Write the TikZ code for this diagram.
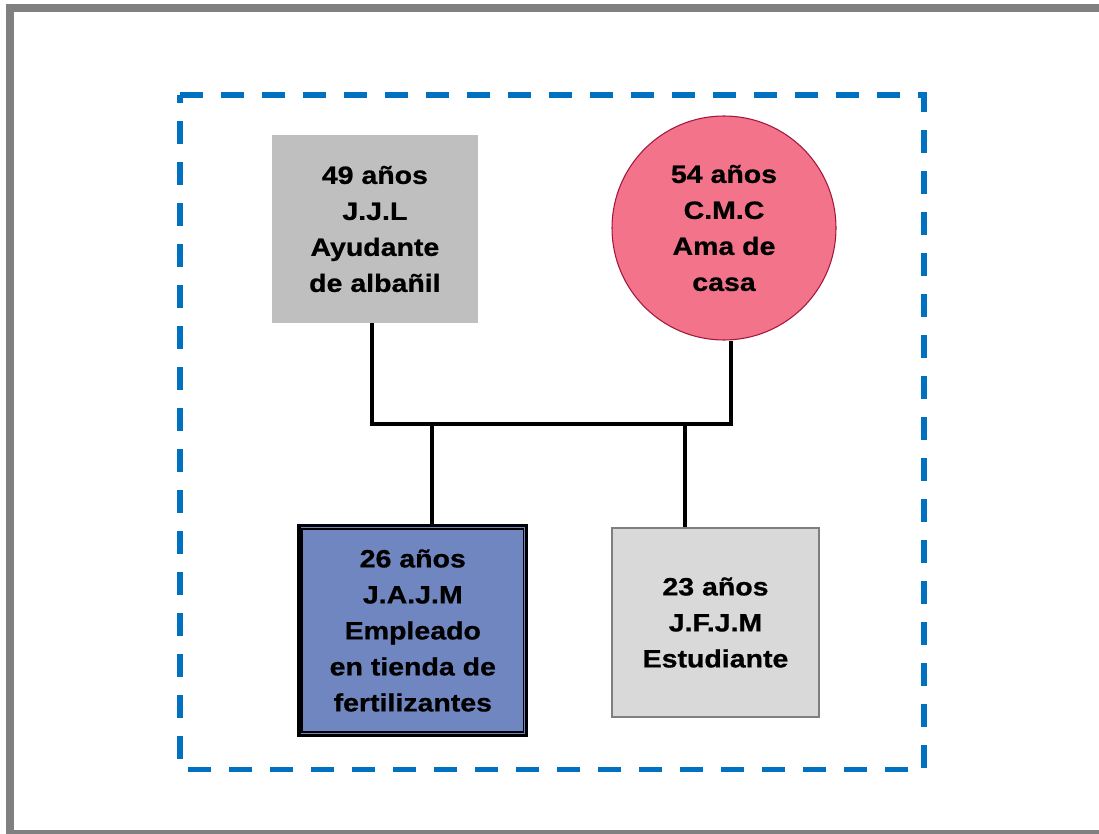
\documentclass[tikz,border=0pt]{standalone}
\usepackage{fontspec}
\newfontfamily\labfont[FakeStretch=1.14,FakeBold=0.8]{Liberation Sans}
\definecolor{frameg}{HTML}{808080}
\definecolor{dashblue}{HTML}{0070C0}
\definecolor{fatherg}{HTML}{BFBFBF}
\definecolor{motherp}{HTML}{F3748A}
\definecolor{motherb}{HTML}{A3163E}
\definecolor{son1b}{HTML}{7086C1}
\definecolor{son2g}{HTML}{D9D9D9}
\definecolor{son2b}{HTML}{7F7F7F}
\begin{document}
\begin{tikzpicture}[x=0.75pt,y=-0.75pt,
  lab/.style={font=\labfont\bfseries\fontsize{18.75}{27}\selectfont, align=center, inner sep=0pt, text=black},
  conn/.style={line width=2.4pt, black},
  famframe/.style={dashblue, line width=4.1pt, dash pattern=on 17.25pt off 13.5pt},
  boxfather/.style={lab, rectangle, fill=fatherg, minimum width=154.7pt, minimum height=141pt},
  circmother/.style={lab, circle, fill=motherp, draw=motherb, line width=0.8pt, minimum size=168pt},
  boxsonone/.style={lab, rectangle, fill=son1b, draw=black, line width=2.4pt, minimum width=170.7pt, minimum height=157.2pt},
  boxsontwo/.style={lab, rectangle, fill=son2g, draw=son2b, line width=0.8pt, minimum width=155.25pt, minimum height=141.75pt}]
\useasboundingbox (0,0) rectangle (1099,834);
\clip (0,0) rectangle (1099,834);
% outer frame
\draw[frameg, line width=6pt] (10,8.3) rectangle (1102.5,834);
% family dashed frame
\draw[famframe] (180,95) -- (924,95) -- (924,769.5) -- (180,769.5) -- cycle;
% persons
\node[boxfather] (father) at (374.9,229) {49 años\\J.J.L\\Ayudante\\de albañil};
\node[circmother] (mother) at (724,228) {54 años\\C.M.C\\Ama de\\casa};
\node[boxsonone] (son1) at (412.8,630.5) {26 años\\J.A.J.M\\Empleado\\en tienda de\\fertilizantes};
\draw[black, line width=1.1pt] ([shift={(4.7,4.7)}]son1.north west) rectangle ([shift={(-4.7,-4.7)}]son1.south east);
\node[boxsontwo] (son2) at (715.5,622.5) {23 años\\J.F.J.M\\Estudiante};
% connectors
\coordinate (jL) at (372,424);
\coordinate (jR) at (731,424);
\coordinate (c1) at (432,424);
\coordinate (c2) at (685,424);
\draw[conn] (father.south -| jL) -- (jL) -- (jR) -- (jR |- mother.south);
\draw[conn] (c1) -- (c1 |- son1.north);
\draw[conn] (c2) -- (c2 |- son2.north);
\end{tikzpicture}
\end{document}
